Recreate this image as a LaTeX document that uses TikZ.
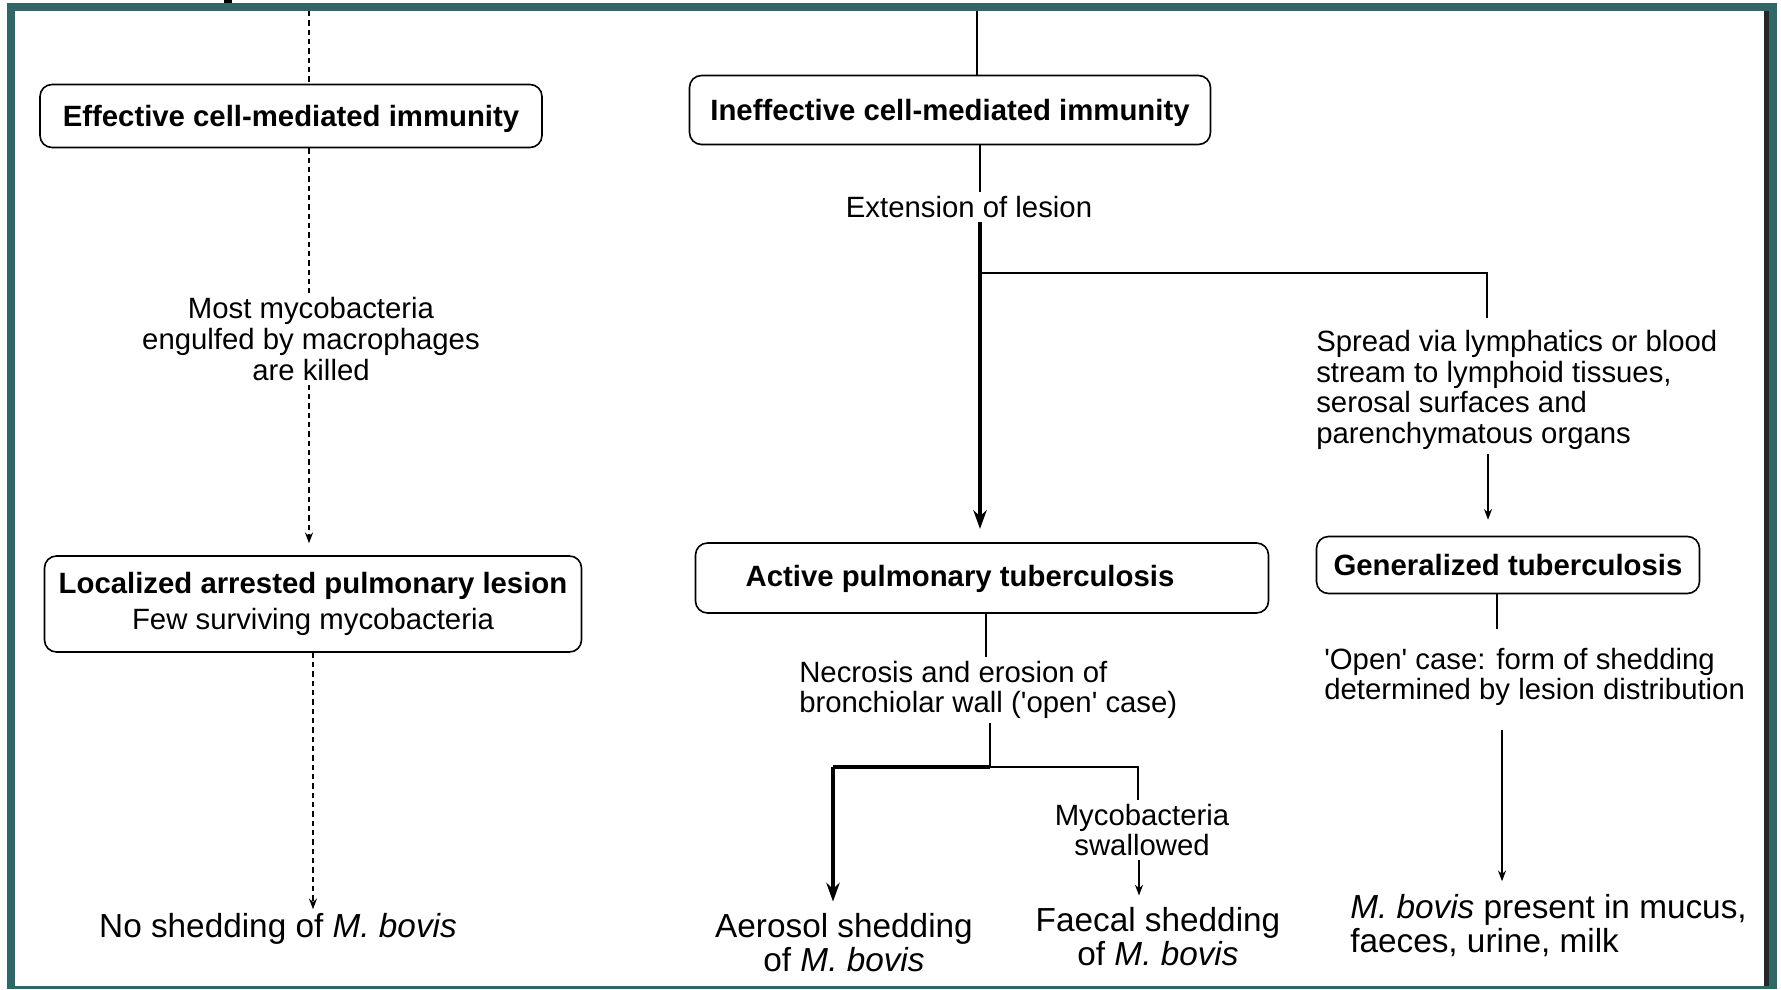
\documentclass[tikz,border=0pt]{standalone}
\usepackage{fontspec}
\setmainfont{Liberation Sans}
\usetikzlibrary{arrows.meta}
\definecolor{framecol}{RGB}{50,103,104}
\begin{document}
\begin{tikzpicture}[x=0.75pt,y=-0.75pt,
  box/.style={draw, line width=1.2pt, rounded corners=9pt, inner sep=0pt,
              font=\bfseries\fontsize{22}{24}\selectfont},
  onel/.style={text height=15.8pt, text depth=0pt},
  boxtxt/.style={inner sep=0pt, text height=15.8pt, text depth=0pt, font=\bfseries\fontsize{22}{24}\selectfont},
  lbl/.style={inner sep=3pt, align=center, font=\fontsize{22}{23}\selectfont},
  big/.style={inner sep=3pt, align=center, font=\fontsize{25}{25.5}\selectfont},
  conn/.style={line width=1.1pt},
  heavy/.style={line width=2.4pt},
  dsh/.style={line width=1pt, dash pattern=on 4pt off 3pt},
  tip/.style={-{Stealth[length=8pt,width=6pt]}},
  bigtip/.style={-{Stealth[length=14pt,width=10pt]}}
]
\useasboundingbox (0,0) rectangle (1781,989);
% frame
\fill[white] (0,0) rectangle (1781,989);
\fill[framecol] (7,3) rectangle (1777,989);
\fill[white] (15,11) rectangle (1764,986);
\fill[black!85] (1764,11) rectangle (1769,986);
\fill[black] (224,0) rectangle (232,3);

% boxes
\node[box, onel, minimum width=376.5pt, minimum height=47.25pt] (eff) at (291,116) {Effective cell-mediated immunity};
\node[box, onel, minimum width=390.75pt, minimum height=51.75pt] (ineff) at (950,110) {Ineffective cell-mediated immunity};
\node[box, minimum width=402.75pt, minimum height=72pt, align=center, font=\fontsize{22}{27}\selectfont] (loc) at (313,604)
  {\textbf{Localized arrested pulmonary lesion}\\Few surviving mycobacteria};
\node[box, minimum width=429.75pt, minimum height=52.5pt] (act) at (982,578) {};
\node[boxtxt] (acttxt) at (960,576) {Active pulmonary tuberculosis};
\node[box, onel, minimum width=287.25pt, minimum height=42.75pt] (gen) at (1508,565) {Generalized tuberculosis};

% text nodes
\node[lbl] (most) at (311,339) {Most mycobacteria\\engulfed by macrophages\\are killed};
\node[big] (noshed) at (278,929) {No shedding of \textit{M. bovis}};
\node[lbl] (ext) at (969,207) {Extension of lesion};
\node[lbl, align=left, anchor=west] (spread) at (1312,390) {Spread via lymphatics or blood\\stream to lymphoid tissues,\\serosal surfaces and\\parenchymatous organs};
\node[lbl, align=left, anchor=west] (necro) at (795,690) {Necrosis and erosion of\\bronchiolar wall (\textquotesingle open\textquotesingle\ case)};
\node[lbl] (myco) at (1142,830) {Mycobacteria\\swallowed};
\node[big] (aer) at (844,943) {Aerosol shedding\\of \textit{M. bovis}};
\node[big] (faec) at (1158,937) {Faecal shedding\\of \textit{M. bovis}};
\node[lbl, align=left, anchor=west] (open) at (1320,677) {\textquotesingle Open\textquotesingle\ case: form of shedding\\determined by lesion distribution};
\node[big, align=left, anchor=west] (mbov) at (1346,926) {\textit{M. bovis} present in mucus,\\faeces, urine, milk};

% coordinates
\coordinate (t1) at (309,11);
\coordinate (t2) at (977,11);
\coordinate (cx) at (980,0);
\coordinate (br) at (980,273);
\coordinate (sp1) at (1487,318);
\coordinate (gx) at (1488,0);
\coordinate (ax) at (986,0);
\coordinate (nx) at (990,0);
\coordinate (split) at (990,767);
\coordinate (ha) at (833,767);
\coordinate (hb) at (1138,767);
\coordinate (mx) at (1139,0);
\coordinate (ox) at (1497,0);
\coordinate (px) at (1502,0);

% left column (dashed)
\draw[dsh] (t1) -- (t1 |- eff.north);
\draw[dsh] (t1 |- eff.south) -- (t1 |- most.north);
\draw[dsh, tip, shorten >=9pt] (t1 |- most.south) -- (t1 |- loc.north);
\draw[dsh, tip] (loc.south) -- (loc.south |- noshed.north);

% middle column
\draw[conn] (t2) -- (t2 |- ineff.north);
\draw[conn] (cx |- ineff.south) -- (cx |- ext.north);
\draw[heavy, bigtip, shorten >=10pt] (cx |- ext.south) -- (cx |- act.north);
\draw[conn] (br) -| (sp1);
\draw[conn, tip, shorten >=12pt] (gx |- spread.south) -- (gx |- gen.north);
\draw[conn] (ax |- act.south) -- (ax |- necro.north);
\draw[conn] (nx |- necro.south) -- (split);
\draw[heavy] (split) -- (ha);
\draw[heavy, bigtip, shorten >=6pt] (ha) -- (ha |- aer.north);
\draw[conn] (split) -- (hb) -- (hb |- myco.north);
\draw[conn, tip, shorten >=6pt] (mx |- myco.south) -- (mx |- faec.north);

% right column
\draw[conn, shorten >=11pt] (ox |- gen.south) -- (ox |- open.north);
\draw[conn, tip, shorten <=15pt, shorten >=7pt] (px |- open.south) -- (px |- mbov.north);
\end{tikzpicture}
\end{document}
